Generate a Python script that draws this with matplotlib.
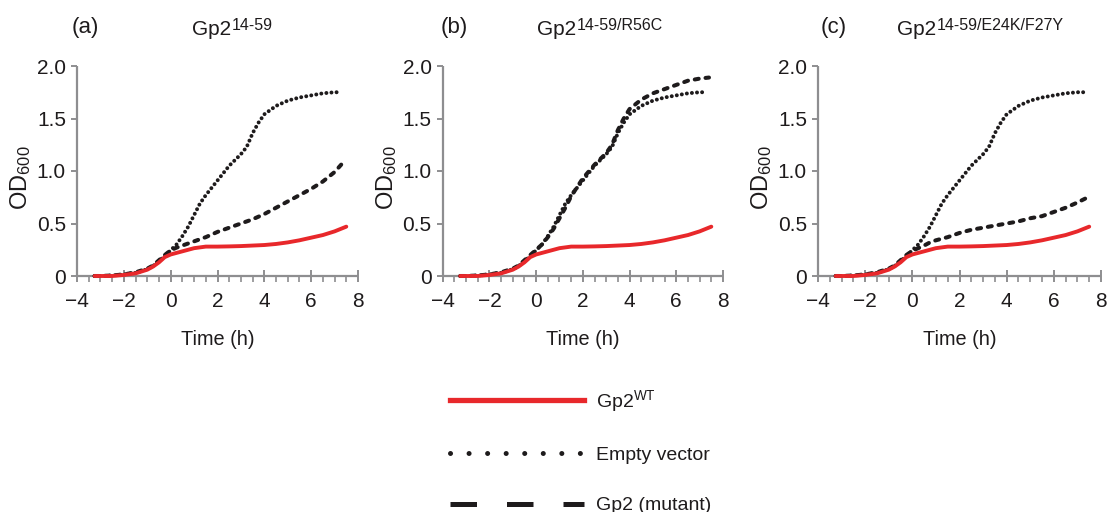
import numpy as np
import matplotlib
matplotlib.use("Agg")
import matplotlib.pyplot as plt
from matplotlib.lines import Line2D
from matplotlib.ticker import FixedLocator

plt.rcParams['font.family'] = ['Liberation Sans', 'DejaVu Sans']
plt.rcParams['mathtext.fontset'] = 'custom'
plt.rcParams['mathtext.rm'] = 'Liberation Sans'
plt.rcParams['mathtext.default'] = 'regular'

# --- data ---
time_wt = [-3.25, -3, -2.5, -2, -1.5, -1, -0.75, -0.5, -0.25, 0, 0.5, 1, 1.5, 2,
           2.5, 3, 3.5, 4, 4.5, 5, 5.5, 6, 6.5, 7, 7.5]
od_wt = [0, 0, 0, 0.01, 0.025, 0.06, 0.09, 0.13, 0.18, 0.205, 0.235, 0.265, 0.28, 0.28,
         0.282, 0.285, 0.29, 0.295, 0.305, 0.32, 0.34, 0.365, 0.39, 0.425, 0.47]

time_ev = [-3.25, -3, -2.5, -2, -1.5, -1, -0.75, -0.5, -0.25, 0, 0.25, 0.5, 0.75, 1,
           1.25, 1.5, 2, 2.5, 3, 3.25, 3.5, 3.75, 4, 4.5, 5, 5.5, 6, 6.5, 7, 7.3]
od_ev = [0, 0, 0.005, 0.015, 0.03, 0.065, 0.095, 0.14, 0.19, 0.245, 0.3, 0.38, 0.47, 0.58,
         0.69, 0.77, 0.91, 1.05, 1.16, 1.23, 1.36, 1.46, 1.54, 1.62, 1.67, 1.70, 1.72,
         1.74, 1.75, 1.75]

time_mut = [-3.25, -3, -2.5, -2, -1.5, -1, -0.75, -0.5, -0.25, 0, 0.25, 0.5, 0.75, 1,
            1.25, 1.5, 2, 2.5, 3, 3.25, 3.5, 3.75, 4, 4.5, 5, 5.5, 6, 6.5, 7, 7.4]
od_mut_a = [0, 0, 0.005, 0.015, 0.035, 0.07, 0.1, 0.15, 0.2, 0.245, 0.27, 0.29, 0.31, 0.33,
            0.35, 0.37, 0.42, 0.46, 0.50, 0.52, 0.54, 0.565, 0.59, 0.65, 0.71, 0.77,
            0.83, 0.90, 0.99, 1.09]
od_mut_b = [0, 0, 0.005, 0.015, 0.035, 0.07, 0.1, 0.15, 0.2, 0.25, 0.3, 0.37, 0.45, 0.55,
            0.65, 0.76, 0.93, 1.06, 1.17, 1.25, 1.39, 1.50, 1.59, 1.68, 1.74, 1.78,
            1.82, 1.86, 1.88, 1.89]
od_mut_c = [0, 0, 0.005, 0.015, 0.035, 0.07, 0.1, 0.15, 0.2, 0.24, 0.265, 0.29, 0.32, 0.34,
            0.355, 0.37, 0.41, 0.44, 0.46, 0.47, 0.48, 0.49, 0.50, 0.52, 0.55, 0.57,
            0.61, 0.65, 0.70, 0.745]

x_ticks = [-4, -2, 0, 2, 4, 6, 8]
x_ticklabels = ['\u22124', '\u22122', '0', '2', '4', '6', '8']
x_minor = list(np.arange(-4, 8.01, 0.5))
y_ticks = [0, 0.5, 1.0, 1.5, 2.0]
y_ticklabels = ['0', '0.5', '1.0', '1.5', '2.0']

panel_tags = ['(a)', '(b)', '(c)']
panel_names = ['14-59', '14-59/R56C', '14-59/E24K/F27Y']
mutant_curves = [od_mut_a, od_mut_b, od_mut_c]

# pixel layout of the reference (1107 x 512)
W, H = 1107, 512
ax_left = [77, 442.7, 818]
ax_right = [358, 723, 1101]
ax_top, ax_bottom = 66, 276
tag_x = [72, 441, 821]
name_x = [192, 537, 897]
tag_base, name_base = 33, 35

red = '#e8282b'
grey = '#8e8e90'
ink = '#1e1b1c'

fig = plt.figure(figsize=(W / 100, H / 100), dpi=100)

for i in range(3):
    l = ax_left[i] / W
    w = (ax_right[i] - ax_left[i]) / W
    b = 1 - ax_bottom / H
    h = (ax_bottom - ax_top) / H
    ax = fig.add_axes([l, b, w, h])

    ax.plot(time_ev, od_ev, color=ink, lw=2.85, linestyle=(0, (0.01, 1.28)),
            dash_capstyle='round', clip_on=False, zorder=3)
    ax.plot(time_mut, mutant_curves[i], color=ink, lw=2.9, linestyle=(0, (1.0, 1.7)),
            dash_capstyle='round', clip_on=False, zorder=4)
    ax.plot(time_wt, od_wt, color=red, lw=2.8, solid_capstyle='round',
            clip_on=False, zorder=5)

    ax.set_xlim(-4, 8)
    ax.set_ylim(0, 2)
    for s in ['top', 'right']:
        ax.spines[s].set_visible(False)
    for s in ['left', 'bottom']:
        ax.spines[s].set_color(grey)
        ax.spines[s].set_linewidth(1.6)
        ax.spines[s].set_capstyle('butt')

    ax.xaxis.set_major_locator(FixedLocator(x_ticks))
    ax.xaxis.set_minor_locator(FixedLocator(x_minor))
    ax.yaxis.set_major_locator(FixedLocator(y_ticks))
    ax.set_xticklabels(x_ticklabels)
    ax.set_yticklabels(y_ticklabels)
    ax.tick_params(axis='x', which='major', direction='inout', length=9, width=1.4,
                   color=grey, labelsize=15, labelcolor=ink, pad=7)
    ax.tick_params(axis='x', which='minor', direction='out', length=4, width=1.2,
                   color=grey)
    ax.tick_params(axis='y', which='major', direction='out', length=4, width=1.4,
                   color=grey, labelsize=15, labelcolor=ink, pad=4)

    ax.set_xlabel('Time (h)', fontsize=14.3, color=ink)
    ax.xaxis.set_label_coords(0.5, -0.255)
    ax.set_ylabel('OD$_{600}$', fontsize=17, color=ink)
    ax.yaxis.set_label_coords(-0.155, 0.468)

    aw = ax_right[i] - ax_left[i]
    ah = ax_bottom - ax_top
    ax.text((tag_x[i] - ax_left[i]) / aw, (ax_bottom - tag_base) / ah, panel_tags[i],
            transform=ax.transAxes, fontsize=16, color=ink, ha='left', va='baseline')
    t = ax.text((name_x[i] - ax_left[i]) / aw, (ax_bottom - name_base) / ah, 'Gp2',
                transform=ax.transAxes, fontsize=15, color=ink, ha='left', va='baseline')
    ax.annotate(panel_names[i], xy=(1, 0), xycoords=t, xytext=(0.8, 6.8),
                textcoords='offset points', fontsize=11.5, color=ink,
                ha='left', va='baseline')

# legend with long sample lines, as in the figure
handles = [
    Line2D([], [], color=red, lw=3.8),
    Line2D([], [], color=ink, lw=3.6, linestyle=(0, (0.01, 3.7)), dash_capstyle='round'),
    Line2D([], [], color=ink, lw=3.6, linestyle=(0, (5.3, 6.0)), dash_capstyle='butt'),
]
labels = ['Gp2$^{WT}$', 'Empty vector', 'Gp2 (mutant)']
fig.legend(handles, labels, loc='upper left', bbox_to_anchor=(450 / W, 1 - 388 / H),
           frameon=False, fontsize=14, handlelength=6.9, handletextpad=0.6,
           labelspacing=1.68, borderpad=0, borderaxespad=0, labelcolor=ink)

fig.savefig('out.png', dpi=100)
